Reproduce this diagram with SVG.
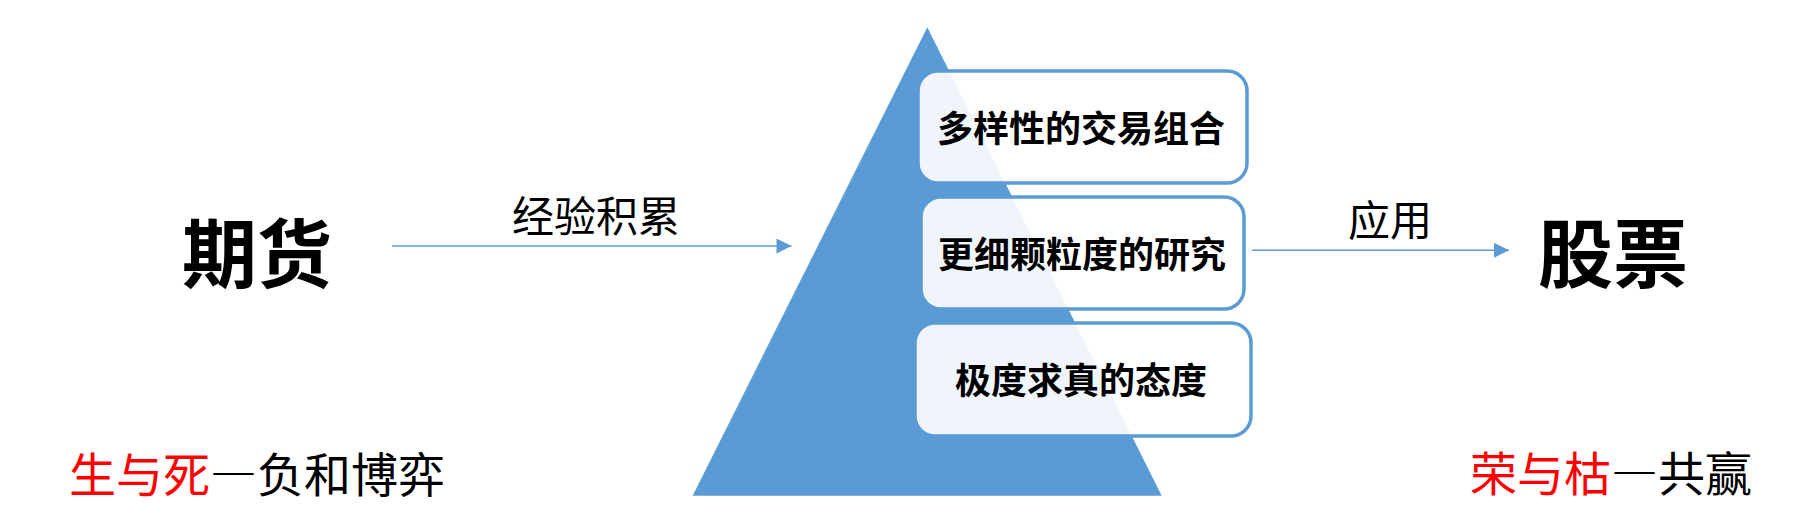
<svg xmlns="http://www.w3.org/2000/svg" width="1820" height="517" viewBox="0 0 1820 517">
  <style>
    text { font-family: "Noto Sans CJK SC", "Noto Sans", sans-serif; }
    .big { font-size: 75px; font-weight: 700; fill: #000; text-anchor: middle; }
    .lbl { font-size: 42px; font-weight: 400; fill: #000; text-anchor: middle; }
    .box { fill: #ffffff; fill-opacity: 0.9; stroke: #5B9BD5; stroke-width: 3.5; }
    .boxt { font-size: 36px; font-weight: 700; fill: #000; text-anchor: middle; }
    .foot { font-size: 47px; font-weight: 400; fill: #000; }
    .red { fill: #FF0000; }
    .dash { font-feature-settings: "fwid" 1; }
    .conn { stroke: #5B9BD5; stroke-width: 1.5; fill: none; }
  </style>
  <defs>
    <marker id="arr" viewBox="0 0 10 10" refX="10" refY="5" markerUnits="userSpaceOnUse" markerWidth="16" markerHeight="15" orient="auto">
      <path d="M0,0 L10,5 L0,10 Z" fill="#5B9BD5"/>
    </marker>
  </defs>
  <rect width="1820" height="517" fill="#ffffff"/>

  <g id="pyramid">
    <polygon points="927.3,27.3 1161.7,495.7 692.7,495.7" fill="#5B9BD5"/>
  </g>

  <g id="node-futures">
    <text class="big" x="257" y="282">期货</text>
  </g>
  <g id="node-stocks">
    <text class="big" x="1613" y="282">股票</text>
  </g>

  <g id="node-box1">
    <rect class="box" x="918" y="71" width="329" height="112" rx="20" ry="20"/>
    <text class="boxt" x="1081" y="142">多样性的交易组合</text>
  </g>
  <g id="node-box2">
    <rect class="box" x="921" y="197" width="323" height="112" rx="20" ry="20"/>
    <text class="boxt" x="1082" y="268">更细颗粒度的研究</text>
  </g>
  <g id="node-box3">
    <rect class="box" x="915" y="323" width="336" height="113" rx="20" ry="20"/>
    <text class="boxt" x="1081" y="394">极度求真的态度</text>
  </g>

  <g id="connectors">
    <line class="conn" x1="392" y1="246" x2="791.5" y2="246" marker-end="url(#arr)"/>
    <text class="lbl" x="596" y="232">经验积累</text>
    <line class="conn" x1="1252" y1="250.3" x2="1509" y2="250.3" marker-end="url(#arr)"/>
    <text class="lbl" x="1390" y="236">应用</text>
  </g>

  <g id="footer-left">
    <text class="foot" x="69" y="492"><tspan class="red">生与死</tspan><tspan class="dash">—</tspan>负和博弈</text>
  </g>
  <g id="footer-right">
    <text class="foot" x="1470" y="491"><tspan class="red">荣与枯</tspan><tspan class="dash">—</tspan>共赢</text>
  </g>
</svg>
